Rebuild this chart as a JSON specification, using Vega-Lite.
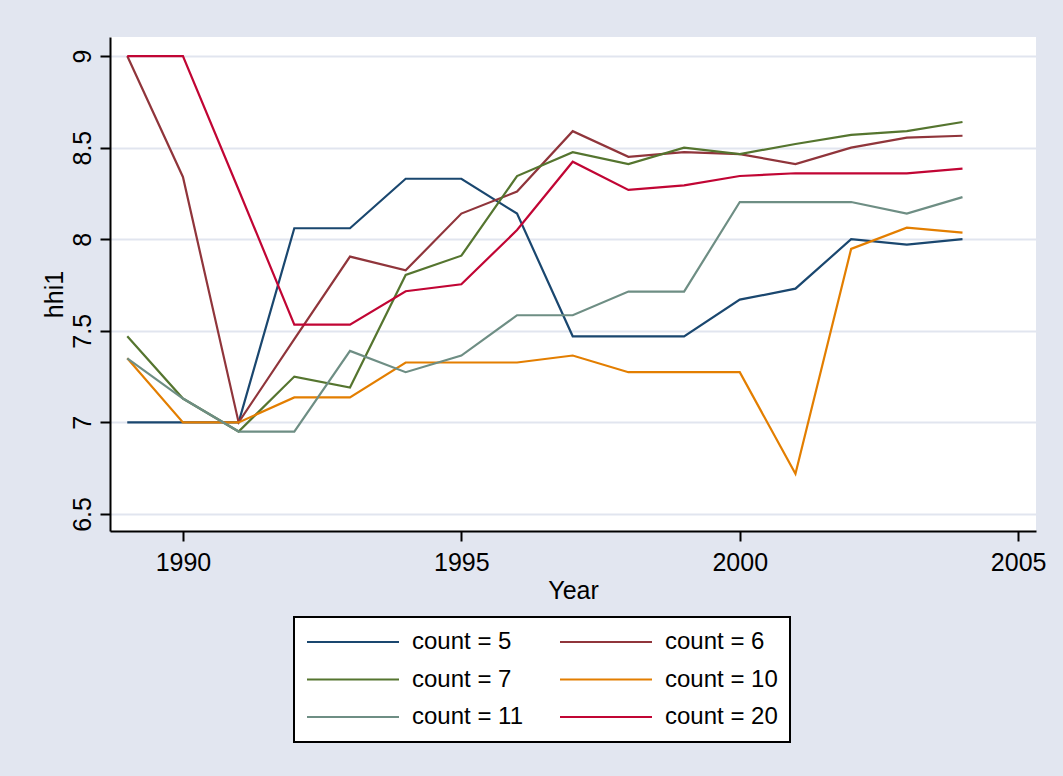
{
  "$schema": "https://vega.github.io/schema/vega-lite/v6.json",
  "width": 926,
  "height": 494,
  "autosize": {"type": "none"},
  "padding": {"left": 110, "top": 37, "right": 27, "bottom": 245},
  "background": "#e2e6f0",
  "config": {
    "view": {"fill": "white", "stroke": null},
    "font": "Liberation Sans",
    "axis": {
      "domainColor": "black", "domainWidth": 2,
      "tickColor": "black", "tickWidth": 2, "tickSize": 10,
      "labelFont": "Liberation Sans", "labelFontSize": 25, "labelColor": "black",
      "titleFont": "Liberation Sans", "titleFontSize": 25, "titleFontWeight": "normal", "titleColor": "black"
    }
  },
  "data": {"values": [
    {"Year":1989,"series":"count = 5","hhi1":7},{"Year":1990,"series":"count = 5","hhi1":7},{"Year":1991,"series":"count = 5","hhi1":7},{"Year":1992,"series":"count = 5","hhi1":8.06},{"Year":1993,"series":"count = 5","hhi1":8.06},{"Year":1994,"series":"count = 5","hhi1":8.33},{"Year":1995,"series":"count = 5","hhi1":8.33},{"Year":1996,"series":"count = 5","hhi1":8.14},{"Year":1997,"series":"count = 5","hhi1":7.47},{"Year":1998,"series":"count = 5","hhi1":7.47},{"Year":1999,"series":"count = 5","hhi1":7.47},{"Year":2000,"series":"count = 5","hhi1":7.67},{"Year":2001,"series":"count = 5","hhi1":7.73},{"Year":2002,"series":"count = 5","hhi1":8.0},{"Year":2003,"series":"count = 5","hhi1":7.97},{"Year":2004,"series":"count = 5","hhi1":8.0},
    {"Year":1989,"series":"count = 6","hhi1":9},{"Year":1990,"series":"count = 6","hhi1":8.34},{"Year":1991,"series":"count = 6","hhi1":7.0},{"Year":1992,"series":"count = 6","hhi1":7.455},{"Year":1993,"series":"count = 6","hhi1":7.905},{"Year":1994,"series":"count = 6","hhi1":7.83},{"Year":1995,"series":"count = 6","hhi1":8.14},{"Year":1996,"series":"count = 6","hhi1":8.26},{"Year":1997,"series":"count = 6","hhi1":8.59},{"Year":1998,"series":"count = 6","hhi1":8.45},{"Year":1999,"series":"count = 6","hhi1":8.475},{"Year":2000,"series":"count = 6","hhi1":8.465},{"Year":2001,"series":"count = 6","hhi1":8.41},{"Year":2002,"series":"count = 6","hhi1":8.5},{"Year":2003,"series":"count = 6","hhi1":8.555},{"Year":2004,"series":"count = 6","hhi1":8.565},
    {"Year":1989,"series":"count = 7","hhi1":7.47},{"Year":1990,"series":"count = 7","hhi1":7.13},{"Year":1991,"series":"count = 7","hhi1":6.95},{"Year":1992,"series":"count = 7","hhi1":7.25},{"Year":1993,"series":"count = 7","hhi1":7.19},{"Year":1994,"series":"count = 7","hhi1":7.805},{"Year":1995,"series":"count = 7","hhi1":7.91},{"Year":1996,"series":"count = 7","hhi1":8.345},{"Year":1997,"series":"count = 7","hhi1":8.475},{"Year":1998,"series":"count = 7","hhi1":8.41},{"Year":1999,"series":"count = 7","hhi1":8.5},{"Year":2000,"series":"count = 7","hhi1":8.465},{"Year":2001,"series":"count = 7","hhi1":8.52},{"Year":2002,"series":"count = 7","hhi1":8.57},{"Year":2003,"series":"count = 7","hhi1":8.59},{"Year":2004,"series":"count = 7","hhi1":8.64},
    {"Year":1989,"series":"count = 10","hhi1":7.35},{"Year":1990,"series":"count = 10","hhi1":7.0},{"Year":1991,"series":"count = 10","hhi1":7.0},{"Year":1992,"series":"count = 10","hhi1":7.136},{"Year":1993,"series":"count = 10","hhi1":7.136},{"Year":1994,"series":"count = 10","hhi1":7.327},{"Year":1995,"series":"count = 10","hhi1":7.327},{"Year":1996,"series":"count = 10","hhi1":7.327},{"Year":1997,"series":"count = 10","hhi1":7.365},{"Year":1998,"series":"count = 10","hhi1":7.274},{"Year":1999,"series":"count = 10","hhi1":7.274},{"Year":2000,"series":"count = 10","hhi1":7.274},{"Year":2001,"series":"count = 10","hhi1":6.72},{"Year":2002,"series":"count = 10","hhi1":7.947},{"Year":2003,"series":"count = 10","hhi1":8.063},{"Year":2004,"series":"count = 10","hhi1":8.036},
    {"Year":1989,"series":"count = 11","hhi1":7.35},{"Year":1990,"series":"count = 11","hhi1":7.13},{"Year":1991,"series":"count = 11","hhi1":6.95},{"Year":1992,"series":"count = 11","hhi1":6.95},{"Year":1993,"series":"count = 11","hhi1":7.39},{"Year":1994,"series":"count = 11","hhi1":7.274},{"Year":1995,"series":"count = 11","hhi1":7.365},{"Year":1996,"series":"count = 11","hhi1":7.585},{"Year":1997,"series":"count = 11","hhi1":7.585},{"Year":1998,"series":"count = 11","hhi1":7.714},{"Year":1999,"series":"count = 11","hhi1":7.714},{"Year":2000,"series":"count = 11","hhi1":8.203},{"Year":2001,"series":"count = 11","hhi1":8.203},{"Year":2002,"series":"count = 11","hhi1":8.203},{"Year":2003,"series":"count = 11","hhi1":8.14},{"Year":2004,"series":"count = 11","hhi1":8.23},
    {"Year":1989,"series":"count = 20","hhi1":9},{"Year":1990,"series":"count = 20","hhi1":9},{"Year":1991,"series":"count = 20","hhi1":8.27},{"Year":1992,"series":"count = 20","hhi1":7.534},{"Year":1993,"series":"count = 20","hhi1":7.534},{"Year":1994,"series":"count = 20","hhi1":7.716},{"Year":1995,"series":"count = 20","hhi1":7.754},{"Year":1996,"series":"count = 20","hhi1":8.05},{"Year":1997,"series":"count = 20","hhi1":8.423},{"Year":1998,"series":"count = 20","hhi1":8.269},{"Year":1999,"series":"count = 20","hhi1":8.294},{"Year":2000,"series":"count = 20","hhi1":8.345},{"Year":2001,"series":"count = 20","hhi1":8.36},{"Year":2002,"series":"count = 20","hhi1":8.36},{"Year":2003,"series":"count = 20","hhi1":8.36},{"Year":2004,"series":"count = 20","hhi1":8.385}
  ]},
  "mark": {"type": "line", "strokeWidth": 2.2},
  "encoding": {
    "x": {
      "field": "Year", "type": "quantitative",
      "scale": {"domain": [1988.69, 2005.32], "nice": false, "zero": false},
      "axis": {"values": [1990, 1995, 2000, 2005], "format": "d", "grid": false,
               "labelBaseline": "alphabetic", "labelPadding": 29, "labelFlush": false,
               "title": "Year", "titleBaseline": "alphabetic", "titleY": 67, "titleX": 463}
    },
    "y": {
      "field": "hhi1", "type": "quantitative",
      "scale": {"domain": [6.407, 9.104], "nice": false, "zero": false},
      "axis": {"values": [6.5, 7, 7.5, 8, 8.5, 9], "format": "~g",
               "grid": true, "gridColor": "#e1e5ef", "gridWidth": 2,
               "labelAngle": -90, "labelAlign": "center", "labelBaseline": "alphabetic", "labelPadding": 10, "labelFlush": false,
               "title": "hhi1", "titleAngle": -90, "titleBaseline": "alphabetic", "titleAlign": "center", "titleX": -48, "titleY": 257}
    },
    "color": {
      "field": "series", "type": "nominal",
      "scale": {
        "domain": ["count = 5", "count = 7", "count = 11", "count = 6", "count = 10", "count = 20"],
        "range": ["#1a476f", "#55752f", "#6e8e84", "#90353b", "#e37e00", "#c10534"]
      },
      "legend": {
        "title": null, "orient": "none", "legendX": 184, "legendY": 580,
        "columns": 2, "columnPadding": 36, "rowPadding": 11.5, "clipHeight": 26,
        "symbolType": "stroke", "symbolSize": 8464, "symbolStrokeWidth": 2,
        "labelFont": "Liberation Sans", "labelFontSize": 24, "labelColor": "black", "labelOffset": 12, "labelLimit": 300,
        "padding": 12, "strokeColor": "black", "fillColor": "white",
        "encode": {"legend": {"update": {"strokeWidth": {"value": 2}}}}
      }
    }
  }
}
